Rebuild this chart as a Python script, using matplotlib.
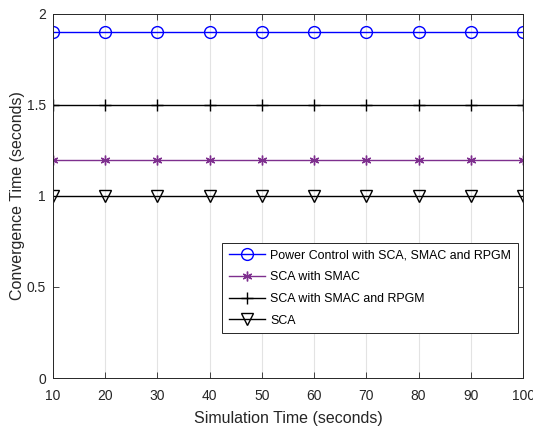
import numpy as np
import matplotlib
matplotlib.use('Agg')
import matplotlib.pyplot as plt

plt.rcParams['font.family'] = ['Liberation Sans', 'DejaVu Sans']

sim_time = [10, 20, 30, 40, 50, 60, 70, 80, 90, 100]
pc_sca_smac_rpgm = [1.9] * 10
sca_smac = [1.2] * 10
sca_smac_rpgm = [1.5] * 10
sca = [1.0] * 10

fig = plt.figure(figsize=(5.33, 4.33), dpi=100)
ax = fig.add_axes([0.0994, 0.127, 0.882, 0.841])

ax.plot(sim_time, pc_sca_smac_rpgm, color='#0000ff', marker='o', ms=8.5, mfc='none',
        mew=1, lw=1, label='Power Control with SCA, SMAC and RPGM')
ax.plot(sim_time, sca_smac, color='#7e2f8e', marker=(6, 2, 0), ms=7,
        mew=1, lw=1, label='SCA with SMAC')
ax.plot(sim_time, sca_smac_rpgm, color='black', marker='+', ms=9,
        mew=1, lw=1, label='SCA with SMAC and RPGM')
ax.plot(sim_time, sca, color='black', marker='v', ms=8.5, mfc='none',
        mew=1, lw=1, label='SCA')

ax.set_xlim(10, 100)
ax.set_ylim(0, 2)
ax.set_xticks(sim_time)
ax.set_yticks([0, 0.5, 1, 1.5, 2])
ax.set_yticklabels(['0', '0.5', '1', '1.5', '2'])
ax.grid(axis='x', color='#e3e3e3', lw=0.8)
ax.set_axisbelow(True)
ax.tick_params(direction='in', top=True, right=True, labelsize=10, colors='#262626',
               length=4, width=0.6)
ax.tick_params(axis='x', pad=8)
ax.tick_params(axis='y', pad=5)
for s in ax.spines.values():
    s.set_color('#262626')
    s.set_linewidth(0.7)

ax.set_xlabel('Simulation Time (seconds)', fontsize=11.5, color='#262626', labelpad=6)
ax.set_ylabel('Convergence Time (seconds)', fontsize=11.5, color='#262626', labelpad=1)

leg = ax.legend(loc='upper left', bbox_to_anchor=(0.36, 0.371), fontsize=8.9,
                fancybox=False, edgecolor='#262626', framealpha=1,
                handlelength=2.9, borderpad=0.55, labelspacing=0.78, handletextpad=0.45,
                borderaxespad=0)
leg.get_frame().set_linewidth(0.7)

fig.savefig('out.png', dpi=100)
